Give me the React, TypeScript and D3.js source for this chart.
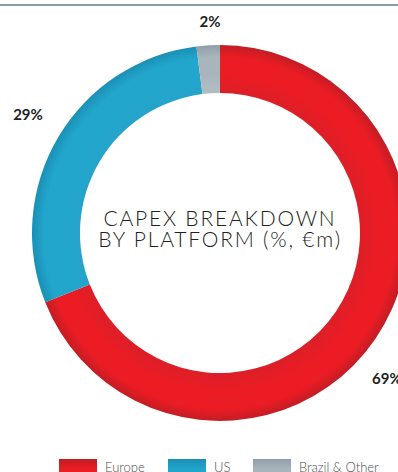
import React from "react";
import * as d3 from "d3";

const categories = ["Europe", "US", "Brazil & Other"];
const values = [69, 29, 2];
const labels = ["69%", "29%", "2%"];
const colors = [
  { dark: "#c21d25", mid: "#ec1c24", light: "#dc1f28" },
  { dark: "#1b8fb5", mid: "#22a6cc", light: "#25a4ca" },
  { dark: "#909fa9", mid: "#a9b5bd", light: "#b2bcc3" },
];
const titleLines = ["CAPEX BREAKDOWN", "BY PLATFORM (%, €m)"];

const W = 398;
const H = 472;
const cx = 220;
const cy = 233;
const rOuter = 188;
const rInner = 140;

export default function App() {
  const pie = d3.pie<number>().sort(null).value((d) => d);
  const arcs = pie(values);
  const arcGen = d3.arc<d3.PieArcDatum<number>>().innerRadius(rInner).outerRadius(rOuter);
  const labelPos = [
    { x: 372, y: 384, anchor: "start" },
    { x: 28, y: 120, anchor: "middle" },
    { x: 210, y: 27, anchor: "middle" },
  ];
  const legendX = [59, 168, 253];
  const f0 = rInner / rOuter;
  return (
    <svg
      width={W}
      height={H}
      style={{ position: "absolute", left: 0, top: 0, background: "#fff" }}
    >
      <defs>
        {colors.map((c, i) => (
          <radialGradient
            key={i}
            id={`rg${i}`}
            gradientUnits="userSpaceOnUse"
            cx={0}
            cy={0}
            r={rOuter}
          >
            <stop offset={f0} stopColor={c.light} />
            <stop offset={f0 + (1 - f0) * 0.4} stopColor={c.mid} />
            <stop offset={f0 + (1 - f0) * 0.75} stopColor={c.mid} />
            <stop offset={1} stopColor={c.dark} />
          </radialGradient>
        ))}
        {colors.map((c, i) => (
          <linearGradient key={i} id={`lg${i}`} x1="0" y1="0" x2="0" y2="1">
            <stop offset="0" stopColor={c.dark} />
            <stop offset="0.7" stopColor={c.mid} />
          </linearGradient>
        ))}
      </defs>
      <line x1={0} x2={W} y1={5} y2={5} stroke="#8c9ba7" strokeWidth={2} />
      <g transform={`translate(${cx},${cy})`}>
        {arcs.map((a, i) => (
          <path key={i} d={arcGen(a) || ""} fill={`url(#rg${i})`} />
        ))}
      </g>
      {labels.map((l, i) => (
        <text
          key={i}
          x={labelPos[i].x}
          y={labelPos[i].y}
          textAnchor={labelPos[i].anchor as any}
          fontFamily="Lato, 'Open Sans', sans-serif"
          fontWeight={700}
          fontSize={15}
          fill="#231f20"
        >
          {l}
        </text>
      ))}
      {titleLines.map((t, i) => (
        <text
          key={i}
          x={cx}
          y={226 + i * 21}
          textAnchor="middle"
          fontFamily="Lato, sans-serif"
          fontWeight={300}
          fontSize={21}
          letterSpacing={1.8}
          fill="#231f20"
        >
          {t}
        </text>
      ))}
      {categories.map((c, i) => (
        <g key={i}>
          <rect x={legendX[i]} y={459} width={38} height={15} fill={`url(#lg${i})`} />
          <text
            x={legendX[i] + 46}
            y={472}
            fontFamily="Lato, sans-serif"
            fontWeight={300}
            fontSize={13}
            fill="#4d4d4f"
          >
            {c}
          </text>
        </g>
      ))}
    </svg>
  );
}
